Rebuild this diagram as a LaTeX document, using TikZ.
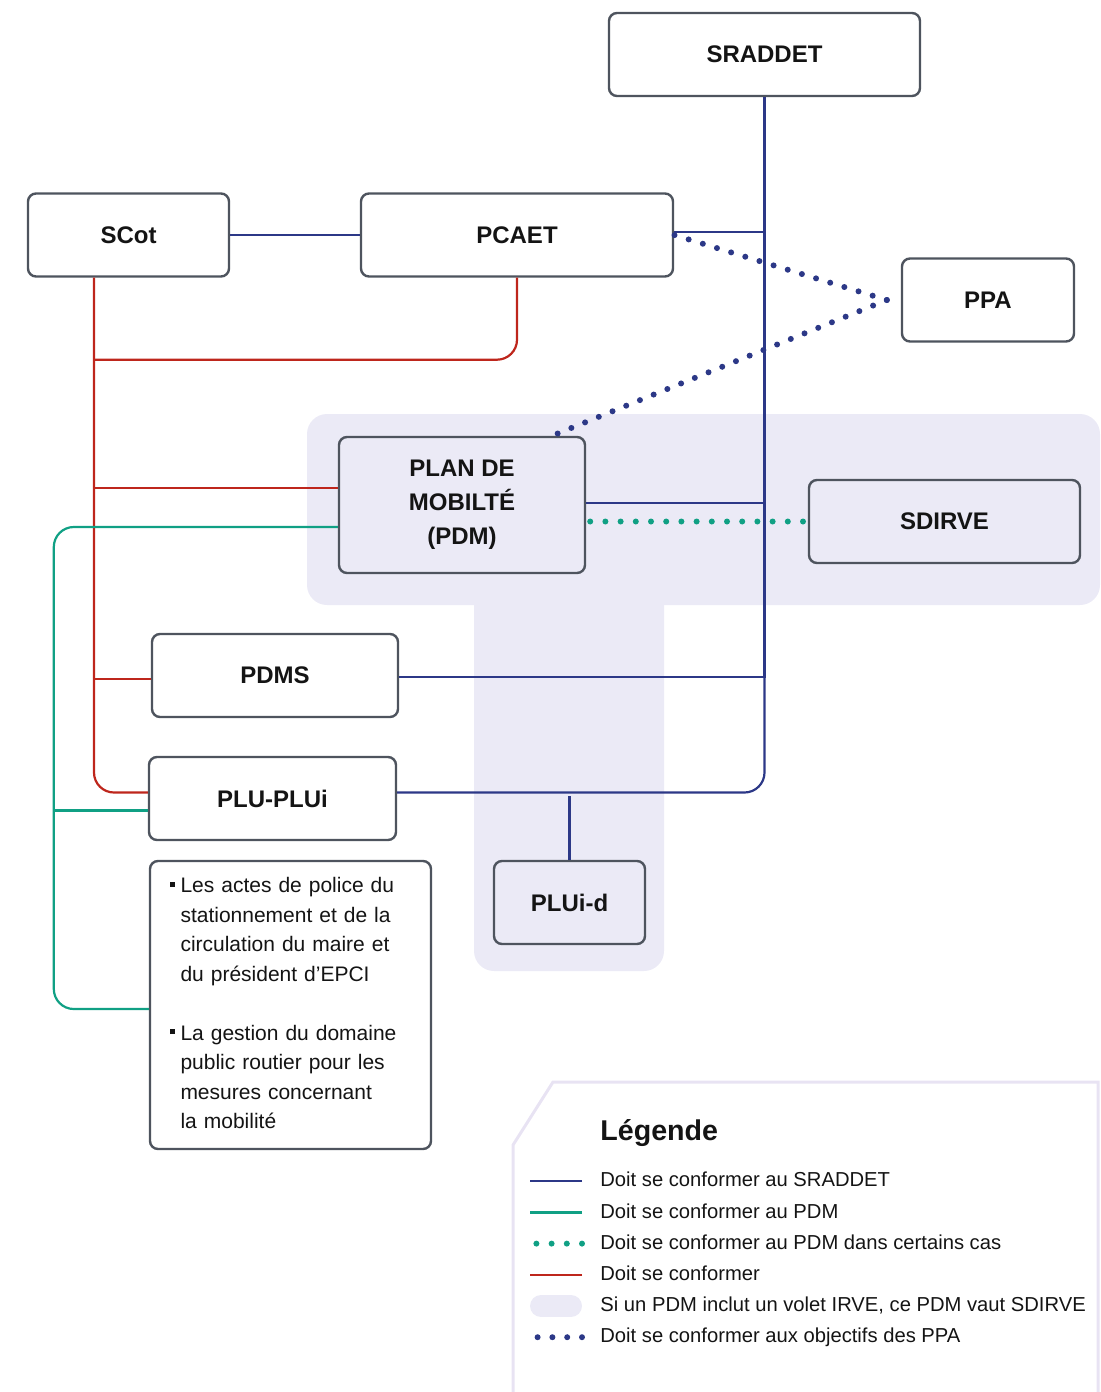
\documentclass[tikz,border=0pt]{standalone}
\usepackage{fontspec}
\setmainfont{Liberation Sans}
\usepackage{xcolor}
\definecolor{mynavy}{RGB}{44,56,135}
\definecolor{myred}{RGB}{190,38,28}
\definecolor{mygreen}{RGB}{16,160,132}
\definecolor{mygray}{RGB}{78,84,94}
\definecolor{myshade}{RGB}{235,234,246}
\definecolor{myframe}{RGB}{232,227,243}
\colorlet{mytext}{black!92}
\tikzset{
  box/.style={draw=mygray,line width=1.2pt,rounded corners=4pt,fill=white,align=center,
    text=mytext,inner sep=2pt,minimum height=41.5pt,font=\fontsize{12}{17}\selectfont\bfseries},
  box in/.style={box,fill=myshade}, % boxes sitting on the SDIRVE shade
  link sraddet/.style={mynavy,line width=1.1pt},
  link pdm/.style={mygreen,line width=1.1pt},
  link conform/.style={myred,line width=1.1pt},
  link case/.style={mygreen,line width=3pt,line cap=round,dash pattern=on 0pt off 7.6pt},
  link ppa/.style={mynavy,line width=3pt,line cap=round,dash pattern=on 0pt off 7.4pt},
  legend shade/.style={myshade,line width=11pt,line cap=round,shorten <=5.5pt,shorten >=5.5pt},
  legend text/.style={anchor=west,inner sep=0pt,text=mytext,text height=1.5ex,text depth=.25ex,
    font=\fontsize{10.1}{12}\selectfont}
}
\newcommand\sqmark{\rule[0.3em]{0.22em}{0.22em}}

\begin{document}
\begin{tikzpicture}[x=0.5pt,y=-0.5pt]
\useasboundingbox (0,0) rectangle (1100,1392);
% PDM = SDIRVE shade
\fill[myshade,rounded corners=10pt] (474,580) rectangle (664,971);
\fill[myshade,rounded corners=10pt] (307,414) rectangle (1100,605);

\path
(764.5,54.5) node[box,minimum width=155.5pt] (sraddet) {SRADDET}
(128.5,235)  node[box,minimum width=100.5pt] (scot) {SCot}
(517,235)    node[box,minimum width=156pt]   (pcaet) {PCAET}
(988,300)    node[box,minimum width=86pt]    (ppa) {PPA}
(462,505)    node[box in,minimum width=123pt,minimum height=68pt] (pdm) {PLAN DE\\MOBILTÉ\\(PDM)}
(944.5,521.5) node[box in,minimum width=135.5pt] (sdirve) {SDIRVE}
(275,675.5)  node[box,minimum width=123pt]   (pdms) {PDMS}
(272.5,798.5) node[box,minimum width=123.5pt] (plu) {PLU-PLUi}
(569.5,902.5) node[box in,minimum width=75.5pt] (pluid) {PLUi-d}
(290.5,1005) node[box,minimum width=140.5pt,minimum height=144pt,text width=120.5pt,
  inner xsep=10pt,align=left,font=\fontsize{10.5}{14.75}\selectfont] (acts)
  {\begin{tabular}{@{}l@{\hspace{0.28em}}l@{}}
   \sqmark & Les actes de police du\\
   & stationnement et de la\\
   & circulation du maire et\\
   & du président d’EPCI\\
   & \\
   \sqmark & La gestion du domaine\\
   & public routier pour les\\
   & mesures concernant\\
   & la mobilité
   \end{tabular}};

\coordinate (redtop) at ([xshift=-17.25pt]scot.south);
\coordinate (ppatip) at ([xshift=-7pt]ppa.west);

% doit se conformer au SRADDET
\draw[link sraddet] (scot.east) -- (pcaet.west);
\draw[link sraddet,rounded corners=10pt] (sraddet.south) |- ([yshift=3pt]plu.east);
\draw[link sraddet] ([yshift=1.5pt]pcaet.east) -| (sraddet.south);
\draw[link sraddet] ([yshift=1pt]pdm.east) -| (sraddet.south);
\draw[link sraddet] ([yshift=-0.75pt]pdms.east) -| (sraddet.south);
\draw[link sraddet] (pluid.north) -- ++(0,-64);

% doit se conformer
\draw[link conform,rounded corners=10pt] (redtop) |- ([yshift=3pt]plu.west);
\draw[link conform,rounded corners=10pt] (pcaet.south) |- ([yshift=-41pt]redtop);
\draw[link conform] ([yshift=8.5pt]pdm.west) -| (redtop);
\draw[link conform] ([yshift=-1.75pt]pdms.west) -| (redtop);

% doit se conformer au PDM
\draw[link pdm,rounded corners=10pt] ([yshift=-11pt]pdm.west) -- ++(-142pt,0) |- ([yshift=-2pt]acts.west);
\draw[link pdm] ([yshift=-6pt]plu.west) -- ++(-47pt,0);

% dotted links
\draw[link case,shorten <=2pt] (pdm.east |- sdirve.west) -- (sdirve.west);
\draw[link ppa] (ppatip) -- (pcaet.east);
\draw[link ppa] (ppatip) -- ([xshift=45pt]pdm.north);

% legend
\draw[myframe,line width=1.5pt] (1098,1392) -- (1098,1082) -- (553,1082) -- (513,1145) -- (513,1392);
\node[anchor=west,inner sep=0pt,text=mytext,font=\fontsize{14.3}{17}\selectfont\bfseries] (legtitle) at (600,1133) {Légende};
\foreach \sty/\txt [count=\i] in {link sraddet/Doit se conformer au SRADDET,
    link pdm/Doit se conformer au PDM,
    link case/Doit se conformer au PDM dans certains cas,
    link conform/Doit se conformer,
    legend shade/Si un PDM inclut un volet IRVE{,} ce PDM vaut SDIRVE,
    link ppa/Doit se conformer aux objectifs des PPA} {
  \node[legend text] (leg\i) at (600,{1149+31.2*\i}) {\txt};
  \draw[\sty] ([xshift=-9pt,yshift=-0.5pt]leg\i.west) -- ++(-26pt,0);
}
\end{tikzpicture}
\end{document}
